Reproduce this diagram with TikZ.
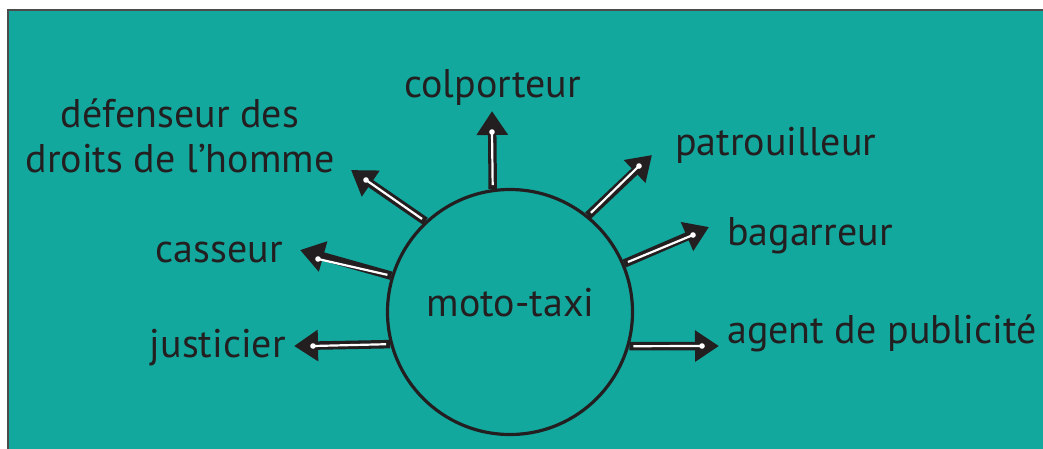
\documentclass[tikz,border=0pt]{standalone}
\usepackage{fontspec}
\setmainfont{PT Sans}
\usetikzlibrary{arrows.meta}
\definecolor{bg}{RGB}{19,168,158}
\definecolor{ink}{RGB}{35,31,32}
\begin{document}
\begin{tikzpicture}[x=1pt,y=-1pt,
  lbl/.style={inner sep=0pt, font=\fontsize{40}{45}\selectfont, text=ink},
  shaft/.style={draw=ink, line width=8.5pt, -{Triangle[length=24pt,width=30pt]}},
  core/.style={draw=white, line width=2.2pt, shorten <=4pt},
  dot/.style={fill=white}]
\useasboundingbox (0,0) rectangle (1043,448);
\draw[fill=bg, draw=black!70, line width=2pt] (8,10) rectangle (1060,470);
\node[circle, draw=ink, line width=3.2pt, minimum size=245pt, inner sep=0pt] (c) at (510,312) {};
\node[lbl, anchor=base] (m) at (510.5,316) {moto-taxi};
% labels
\node[lbl, anchor=base] (l1) at (492.5,97) {colporteur};
\node[lbl, anchor=base, align=center] (l2) at (180,172) {défenseur des\\droits de l’homme};
\node[lbl, anchor=base east] (l3) at (283,262) {casseur};
\node[lbl, anchor=base east] (l4) at (286,357) {justicier};
\node[lbl, anchor=base west] (l5) at (675,155) {patrouilleur};
\node[lbl, anchor=base west] (l6) at (727,245) {bagarreur};
\node[lbl, anchor=base west] (l7) at (727,343) {agent de publicité};
% tips and dots
\coordinate (t1) at (492,111); \coordinate (d1) at (492,132);
\coordinate (t2) at (351,170); \coordinate (d2) at (366,180);
\coordinate (t3) at (300,250); \coordinate (d3) at (318,259);
\coordinate (t4) at (294,346); \coordinate (d4) at (313,346);
\coordinate (t5) at (652,155); \coordinate (d5) at (639,166);
\coordinate (t6) at (709,227); \coordinate (d6) at (693,235);
\coordinate (t7) at (719,346); \coordinate (d7) at (702,346);
% arrows
\foreach \a/\i in {98/1,133/2,163.6/3,195.6/4,51.3/5,23/6,-16.4/7}{
  \draw[shaft] (c.\a) -- (t\i);
  \draw[core] (c.\a) -- (d\i);
  \fill[dot] (d\i) circle (2.8pt);
}
\end{tikzpicture}
\end{document}
